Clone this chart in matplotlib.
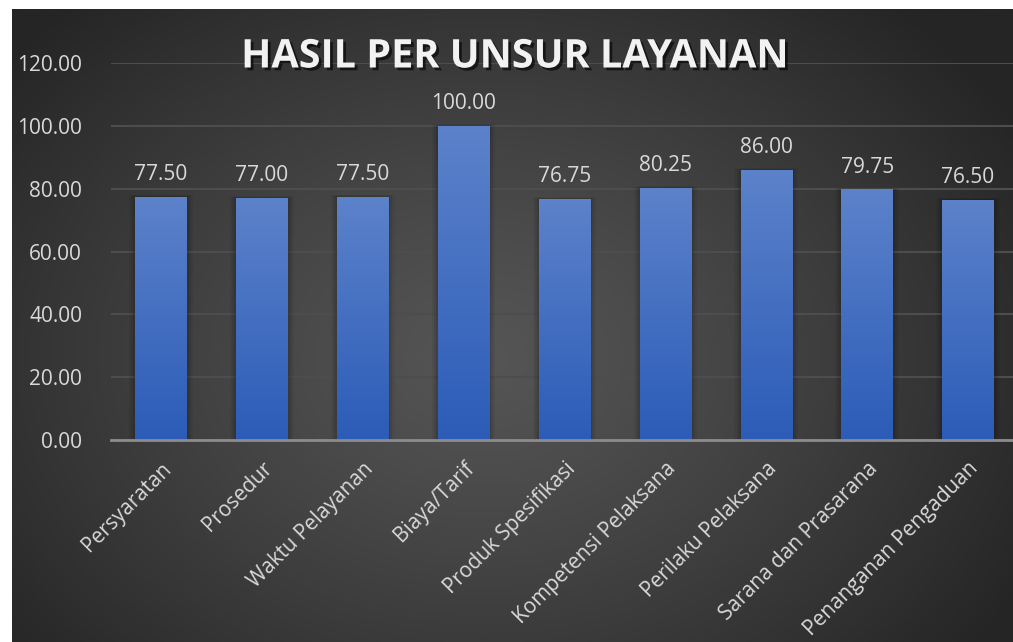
import numpy as np
import matplotlib
matplotlib.use("Agg")
import matplotlib.pyplot as plt
import matplotlib.patheffects as pe

categories = ["Persyaratan", "Prosedur", "Waktu Pelayanan", "Biaya/Tarif",
              "Produk Spesifikasi", "Kompetensi Pelaksana", "Perilaku Pelaksana",
              "Sarana dan Prasarana", "Penanganan Pengaduan"]
values = [77.50, 77.00, 77.50, 100.00, 76.75, 80.25, 86.00, 79.75, 76.50]
yticks = [0, 20, 40, 60, 80, 100, 120]
title = "HASIL PER UNSUR LAYANAN"

W, H = 1013, 642
fig = plt.figure(figsize=(W / 100, H / 100), dpi=100)
fig.patch.set_facecolor("white")
FONT = "Open Sans"

# background radial gradient
bg = fig.add_axes([12 / W, 0, (W - 12) / W, (H - 9) / H])
bg.set_axis_off()
ny, nx = 400, 640
yy, xx = np.mgrid[0:ny, 0:nx]
cx, cy = nx * 0.47, ny * 0.55
d = np.sqrt(((xx - cx) / (nx * 0.62)) ** 2 + ((yy - cy) / (ny * 0.75)) ** 2)
d = np.clip(d, 0, 1)
inner, outer = 0x55 / 255, 0x25 / 255
g = inner + (outer - inner) * d ** 1.2
img = np.dstack([g, g, g])
bg.imshow(img, aspect="auto", extent=[0, 1, 0, 1], interpolation="bilinear")
bg.set_xlim(0, 1)
bg.set_ylim(0, 1)

ax = fig.add_axes([110.5 / W, 202 / H, 908 / W, 377 / H])
ax.set_facecolor("none")
x = np.arange(len(categories))
bw = 0.51
bars = ax.bar(x, values, width=bw, color="#3a68c0", zorder=3, linewidth=0)

# gradient fill + soft shadow
grad = np.linspace(0, 1, 256).reshape(-1, 1)
top_c = np.array([0x5c, 0x82, 0xca]) / 255
bot_c = np.array([0x2c, 0x5c, 0xb8]) / 255
gimg = (bot_c[None, None, :] * (1 - grad[:, :, None]) + top_c[None, None, :] * grad[:, :, None])
for b in bars:
    bx, by, bwid, bh = b.get_x(), b.get_y(), b.get_width(), b.get_height()
    for k, a in [(0.06, 0.05), (0.04, 0.07), (0.02, 0.09)]:
        ax.add_patch(plt.Rectangle((bx - k, by), bwid + 2 * k, bh + k * 10,
                                   color="black", alpha=a, zorder=2, lw=0))
    im = ax.imshow(gimg, extent=[bx, bx + bwid, by, by + bh], origin="lower",
                   aspect="auto", zorder=3.5, interpolation="bilinear")
    im.set_clip_path(b)

for xi, v in zip(x, values):
    ax.text(xi, v + 3.7, f"{v:.2f}", ha="center", va="bottom", color="#d9d9d9",
            fontsize=15, family=FONT, zorder=5)

ax.set_xlim(-0.5, len(categories) - 0.5)
ax.set_ylim(0, 120)
ax.set_yticks(yticks)
ax.set_yticklabels([f"{t:.2f}" for t in yticks], color="#d9d9d9", fontsize=15, family=FONT)
ax.set_xticks(x)
ax.set_xticklabels(categories, rotation=45, ha="right", rotation_mode="anchor",
                   color="#d9d9d9", fontsize=15, family=FONT)
ax.tick_params(axis="both", length=0)
ax.tick_params(axis="x", pad=13)
ax.tick_params(axis="y", pad=20.5)
ax.grid(axis="y", color="#4d4d4d", linewidth=1.5, zorder=0)
ax.set_axisbelow(True)
for s in ["top", "right", "left"]:
    ax.spines[s].set_visible(False)
ax.spines["bottom"].set_color("#8c8c8c")
ax.spines["bottom"].set_linewidth(2)
ax.spines["bottom"].set_zorder(4)

fig.text(515 / W, 1 - 57 / H, title, ha="center", va="center", color="#f2f2f2",
         fontsize=28.5, fontweight="bold", family=FONT,
         path_effects=[pe.SimplePatchShadow(offset=(2, -2), shadow_rgbFace="black", alpha=0.6),
                       pe.Normal()])

fig.savefig("out.png", dpi=100, facecolor="white")
